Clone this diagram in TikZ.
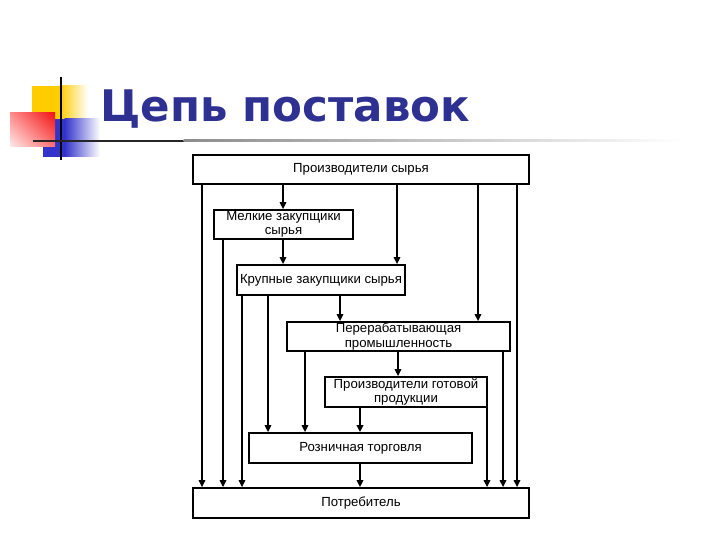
\documentclass[tikz,border=0pt]{standalone}
\usepackage{fontspec}
\setmainfont{Liberation Sans}
\newfontfamily\titlefont{DejaVu Sans}
\usetikzlibrary{arrows.meta,shadings}
\definecolor{ttl}{RGB}{46,49,146}
\definecolor{sqyel}{RGB}{255,204,0}
\definecolor{sqblue}{RGB}{51,51,204}
\definecolor{sqred}{RGB}{240,20,20}
\tikzset{box/.style={draw,line width=1.8pt,align=center,inner sep=0pt,
    font=\fontsize{13.2}{14.5}\selectfont},
  flow/.style={-{Triangle[length=7pt,width=6.5pt]},line width=1.4pt},
  bold/.style={line width=1.9pt},
  title/.style={font=\titlefont\bfseries\fontsize{43.5}{50}\selectfont,text=ttl,anchor=base west,inner sep=0pt}}

\begin{document}
\begin{tikzpicture}[x=1pt,y=-1pt]
\useasboundingbox (0,0) rectangle (720,540);
% logo squares
\fill[sqyel] (32,86) rectangle (60,119);
\shade[left color=sqyel,right color=white] (59.5,86) rectangle (88,119);
\fill[sqblue] (43,119) rectangle (65,157);
\shade[left color=sqblue,right color=white] (64.5,119) rectangle (100,157);
\shade[upper right=sqred,lower left=red!8,upper left=red!45,lower right=red!55] (10,113) rectangle (55,147);
\draw[line width=2pt] (61,77) -- (61,160);
\fill[black!85] (33,140) rectangle (184,142);
\shade[left color=black!45,right color=white] (183.5,140) rectangle (683,142);
\node[title] (t) at (100,122) {Цепь поставок};
% boxes
\node[box,minimum width=336pt,minimum height=29pt] (prod) at (361,169.5) {Производители сырья};
\node[box,minimum width=139pt,minimum height=29pt] (small) at (283.5,224.5) {Мелкие закупщики\\сырья};
\node[box,minimum width=168pt,minimum height=30pt] (large) at (321,280) {Крупные закупщики сырья};
\node[box,minimum width=223pt,minimum height=29pt] (proc) at (398.5,336.5) {Перерабатывающая\\промышленность};
\node[box,minimum width=162pt,minimum height=30pt] (fin) at (406,392) {Производители готовой\\продукции};
\node[box,minimum width=223pt,minimum height=30pt] (retail) at (360.5,448) {Розничная торговля};
\node[box,minimum width=336pt,minimum height=30pt] (cons) at (361,503) {Потребитель};
% links
\draw[flow] (prod.south -| 202,0) -- (cons.north -| 202,0);
\draw[flow] (prod.south -| 517,0) -- (cons.north -| 517,0);
\draw[flow] (prod.south -| 283,0) -- (small.north -| 283,0);
\draw[flow] (prod.south -| 397,0) -- (large.north -| 397,0);
\draw[flow] (prod.south -| 478,0) -- (proc.north -| 478,0);
\draw[flow] (small.south -| 223,0) -- (cons.north -| 223,0);
\draw[flow] (small.south -| 283,0) -- (large.north -| 283,0);
\draw[flow] (large.south -| 242,0) -- (cons.north -| 242,0);
\draw[flow] (large.south -| 268,0) -- (retail.north -| 268,0);
\draw[flow] (large.south -| 340,0) -- (proc.north -| 340,0);
\draw[flow] (proc.south -| 305,0) -- (retail.north -| 305,0);
\draw[flow] (proc.south -| 398,0) -- (fin.north -| 398,0);
\draw[flow] (proc.south -| 503,0) -- (cons.north -| 503,0);
\draw[flow] (fin.south -| 487,0) -- (cons.north -| 487,0);
\draw[flow,bold] (fin.south -| 360,0) -- (retail.north -| 360,0);
\draw[flow,bold] (retail.south -| 360,0) -- (cons.north -| 360,0);
\end{tikzpicture}
\end{document}
